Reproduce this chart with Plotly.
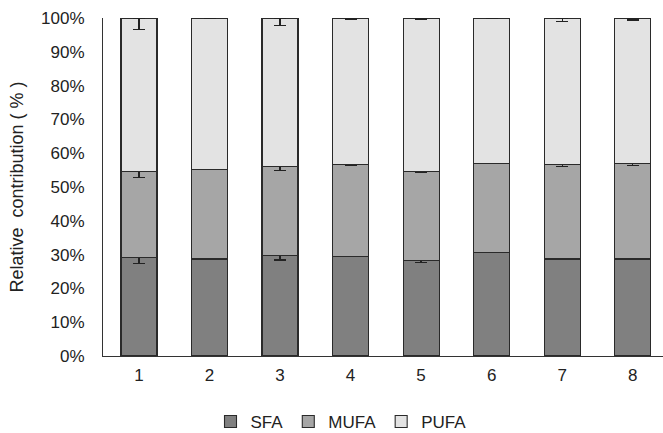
import plotly.graph_objects as go

categories = [1, 2, 3, 4, 5, 6, 7, 8]
sfa = [29.2, 28.7, 29.8, 29.4, 28.3, 30.6, 28.7, 28.7]
mufa = [25.3, 26.5, 26.2, 27.2, 26.2, 26.4, 27.9, 28.2]
pufa = [round(100 - a - b, 1) for a, b in zip(sfa, mufa)]
sfa_err = [1.8, 0, 1.4, 0, 0.6, 0, 0, 0.2]
mufa_err = [1.7, 0, 1.2, 0.3, 0.3, 0, 0.6, 0.5]
pufa_err = [3.3, 0, 2.2, 0.3, 0.3, 0, 1.0, 0.6]
y_ticks = list(range(0, 101, 10))
y_tick_labels = [f"{v}%" for v in y_ticks]

series = [
    ("SFA", sfa, sfa_err, "#808080"),
    ("MUFA", mufa, mufa_err, "#a6a6a6"),
    ("PUFA", pufa, pufa_err, "#e3e3e3"),
]

fig = go.Figure()
for name, vals, err, col in series:
    fig.add_trace(go.Bar(
        name=name, x=categories, y=vals, width=0.51,
        marker=dict(color=col, line=dict(color="#2a2a2a", width=1.1)),
        error_y=dict(type="data", symmetric=False, array=[0] * len(err),
                     arrayminus=err, color="#222222", thickness=1.2, width=6),
    ))

font = dict(family="Liberation Sans, Arial, sans-serif", size=17, color="#222222")
fig.update_layout(
    barmode="stack",
    width=663, height=433,
    margin=dict(l=103, r=0, t=18, b=77, autoexpand=False),
    paper_bgcolor="white", plot_bgcolor="white",
    font=font,
    showlegend=True,
    legend=dict(orientation="h", x=0.425, xanchor="center", y=-0.195, yanchor="middle",
                font=font, itemwidth=30, traceorder="normal"),
    xaxis=dict(range=[0.49, 8.43], tickvals=categories, ticktext=[str(c) for c in categories],
               showline=True, linecolor="#333333", linewidth=1, ticks="",
               showgrid=False, zeroline=False, ticklabelstandoff=4, automargin=False),
    yaxis=dict(range=[0, 100], tickvals=y_ticks, ticktext=y_tick_labels,
               showline=True, linecolor="#333333", linewidth=1, ticks="",
               showgrid=False, zeroline=False, ticklabelstandoff=14, automargin=False,
               title=dict(text="Relative\u00a0 contribution (\u00a0%\u00a0)",
                          font=dict(family="Liberation Sans, Arial, sans-serif", size=18,
                                    color="#222222"), standoff=12)),
)
fig.write_html("out.html", config={"displayModeBar": False},
               post_script="document.body.style.margin='0';")
